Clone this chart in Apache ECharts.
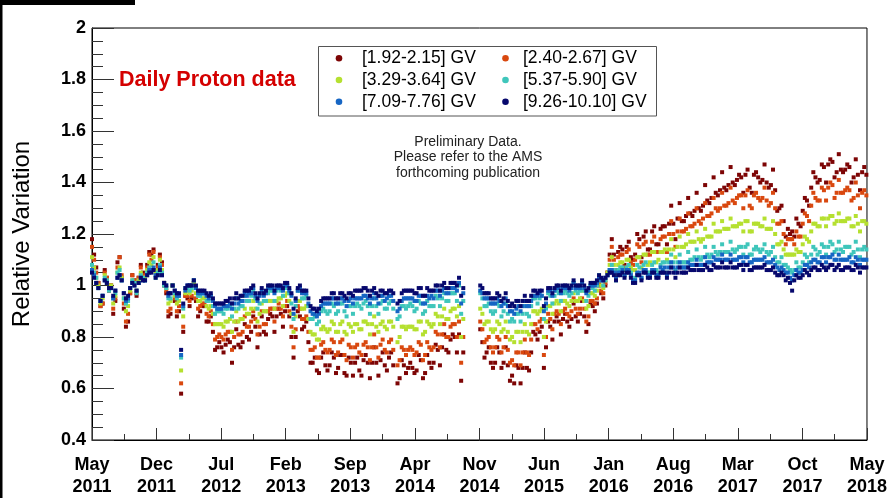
<!DOCTYPE html>
<html>
<head>
<meta charset="utf-8">
<script src="https://cdn.jsdelivr.net/npm/echarts@6/dist/echarts.min.js"></script>
<style>
  html, body { margin: 0; padding: 0; background: #fff; }
  #chart { width: 890px; height: 498px; }
</style>
</head>
<body>
<div id="chart"></div>
<script>
// AMS daily proton flux, relative variation per rigidity bin.
// One value per week starting 2011-05-20 (null = no data that week).
const startDate = '2011-05-20';
const stepDays = 7;
const spanDays = 2557;

const tickLabels = ['May 2011', 'Dec 2011', 'Jul 2012', 'Feb 2013', 'Sep 2013', 'Apr 2014', 'Nov 2014',
                    'Jun 2015', 'Jan 2016', 'Aug 2016', 'Mar 2017', 'Oct 2017', 'May 2018'];

const binNames = ['[1.92-2.15] GV', '[2.40-2.67] GV', '[3.29-3.64] GV',
                  '[5.37-5.90] GV', '[7.09-7.76] GV', '[9.26-10.10] GV'];

const p192 = [
1.18,1.12,1.07,1.01,0.92,0.93,1.06,1.03,0.98,1.00,
0.89,0.94,1.09,1.11,1.03,0.91,0.84,0.86,0.97,1.04,
1.02,0.96,1.03,1.08,1.05,1.03,1.08,1.13,1.12,1.14,
1.06,1.08,1.12,1.09,1.00,0.97,0.88,0.89,1.00,0.94,
0.88,0.90,0.58,0.82,0.96,0.95,0.92,0.95,1.01,0.94,
0.88,0.90,0.92,0.92,0.86,0.86,0.88,0.82,0.75,0.76,
0.78,0.76,0.74,0.77,0.79,0.78,0.70,0.76,0.83,0.77,
0.76,0.78,0.85,0.80,0.79,0.82,0.88,0.84,0.76,0.81,
0.88,0.82,0.81,0.87,0.89,0.88,0.82,0.88,0.91,0.89,
0.84,0.90,0.92,0.88,0.80,0.72,0.80,0.90,0.88,0.83,
0.84,0.86,0.78,0.70,0.70,0.72,0.67,0.66,0.72,0.74,
0.69,0.67,0.69,0.74,0.72,0.66,0.68,0.73,0.73,0.66,
0.65,0.72,0.70,0.65,0.70,0.72,0.67,0.65,0.71,0.73,
0.70,0.64,0.70,0.76,0.70,0.65,0.71,0.74,0.69,0.67,
0.72,0.74,0.69,null,0.62,0.64,0.71,0.69,0.66,0.68,
0.70,0.68,0.66,0.67,0.73,0.71,0.64,0.66,0.73,0.70,
0.68,0.70,0.77,0.75,0.69,0.76,0.81,0.75,0.74,0.79,
0.81,0.80,0.74,0.81,0.63,0.74,null,null,null,null,
null,null,null,0.83,0.78,0.72,0.74,0.76,0.70,0.68,
0.70,0.76,0.74,0.68,0.70,0.76,0.69,0.63,0.65,0.62,
0.69,0.68,0.62,0.68,0.74,0.68,0.67,0.74,0.82,0.81,
0.79,0.82,0.84,0.68,0.76,0.86,0.84,0.79,0.86,0.88,
0.86,0.81,0.87,0.89,0.86,0.84,0.87,0.93,0.88,0.86,
0.89,0.94,0.88,0.82,0.85,0.93,0.92,0.90,0.93,1.00,
0.97,0.95,1.00,1.05,1.12,1.18,1.12,1.06,1.13,1.15,
1.14,1.08,1.15,1.17,1.11,1.10,1.12,1.20,1.18,1.11,
1.19,1.21,1.14,1.14,1.21,1.23,1.16,1.16,1.22,1.23,
1.23,1.16,1.24,1.31,1.24,1.18,1.26,1.32,1.25,1.25,
1.27,1.34,1.28,1.27,1.29,1.36,1.30,1.29,1.31,1.39,
1.33,1.32,1.34,1.42,1.36,1.35,1.37,1.44,1.38,1.37,
1.39,1.46,1.40,1.39,1.41,1.43,1.42,1.36,1.43,1.45,
1.38,1.36,1.43,1.44,1.42,1.40,1.41,1.47,1.40,1.38,
1.39,1.45,1.37,1.29,1.30,1.31,1.25,1.19,1.22,1.20,
1.21,1.19,1.26,1.24,1.23,1.29,1.34,1.33,1.31,1.38,
1.44,1.42,1.40,1.41,1.47,1.46,1.40,1.47,1.49,1.48,
1.42,1.44,1.51,1.45,1.44,1.45,1.47,1.46,1.40,1.42,
1.49,1.43,1.37,1.44,1.46,1.43
];

const p240 = [
1.15,1.10,1.05,1.01,0.92,0.93,1.05,1.03,0.99,1.00,
0.91,0.95,1.07,1.11,1.04,0.93,0.86,0.89,0.97,1.04,
1.02,0.97,1.03,1.07,1.04,1.03,1.07,1.12,1.10,1.13,
1.06,1.07,1.11,1.08,1.01,0.98,0.90,0.91,1.00,0.95,
0.90,0.92,0.62,0.84,0.96,0.96,0.94,0.96,1.01,0.95,
0.91,0.92,0.93,0.93,0.89,0.88,0.90,0.85,0.79,0.80,
0.81,0.80,0.79,0.81,0.82,0.82,0.75,0.80,0.86,0.81,
0.81,0.82,0.88,0.84,0.84,0.86,0.90,0.87,0.81,0.84,
0.90,0.85,0.85,0.90,0.91,0.91,0.86,0.91,0.93,0.91,
0.88,0.92,0.94,0.90,0.84,0.76,0.83,0.92,0.91,0.87,
0.87,0.88,0.82,0.75,0.75,0.76,0.72,0.72,0.77,0.78,
0.75,0.74,0.75,0.79,0.78,0.73,0.74,0.78,0.79,0.73,
0.71,0.77,0.76,0.72,0.76,0.77,0.74,0.73,0.77,0.78,
0.76,0.71,0.76,0.81,0.76,0.72,0.77,0.79,0.75,0.74,
0.78,0.79,0.75,null,0.69,0.71,0.76,0.75,0.73,0.75,
0.76,0.75,0.73,0.74,0.78,0.77,0.71,0.73,0.78,0.76,
0.75,0.76,0.82,0.81,0.76,0.81,0.85,0.80,0.80,0.84,
0.85,0.85,0.80,0.86,0.70,0.80,null,null,null,null,
null,null,null,0.86,0.83,0.78,0.79,0.80,0.76,0.74,
0.76,0.80,0.79,0.74,0.76,0.80,0.75,0.70,0.71,0.69,
0.74,0.74,0.69,0.74,0.79,0.74,0.73,0.79,0.85,0.85,
0.83,0.86,0.87,0.73,0.80,0.89,0.87,0.83,0.89,0.90,
0.89,0.85,0.90,0.91,0.89,0.88,0.90,0.95,0.91,0.89,
0.91,0.95,0.91,0.86,0.88,0.94,0.94,0.93,0.95,1.01,
0.98,0.97,1.01,1.05,1.10,1.15,1.10,1.05,1.11,1.12,
1.12,1.07,1.13,1.14,1.09,1.08,1.10,1.16,1.15,1.09,
1.16,1.17,1.12,1.12,1.17,1.19,1.13,1.13,1.18,1.19,
1.19,1.13,1.20,1.25,1.20,1.15,1.21,1.26,1.21,1.21,
1.22,1.28,1.23,1.23,1.24,1.30,1.25,1.24,1.26,1.32,
1.27,1.27,1.28,1.34,1.30,1.29,1.30,1.36,1.31,1.31,
1.32,1.38,1.33,1.32,1.34,1.35,1.35,1.30,1.35,1.37,
1.31,1.30,1.35,1.36,1.34,1.33,1.34,1.38,1.33,1.31,
1.32,1.36,1.30,1.24,1.24,1.25,1.20,1.16,1.18,1.18,
1.18,1.16,1.21,1.19,1.19,1.24,1.28,1.27,1.25,1.31,
1.36,1.34,1.33,1.33,1.38,1.37,1.33,1.38,1.40,1.39,
1.34,1.36,1.41,1.36,1.36,1.37,1.38,1.37,1.33,1.34,
1.40,1.35,1.30,1.36,1.37,1.35
];

const p329 = [
1.11,1.07,1.03,1.00,0.93,0.95,1.04,1.02,0.99,1.00,
0.93,0.96,1.05,1.07,1.03,0.95,0.90,0.92,0.98,1.02,
1.01,0.98,1.02,1.05,1.03,1.03,1.06,1.09,1.08,1.11,
1.05,1.06,1.10,1.06,1.01,0.99,0.93,0.94,1.00,0.96,
0.93,0.94,0.67,0.88,0.97,0.98,0.97,0.98,1.01,0.97,
0.94,0.94,0.95,0.95,0.92,0.91,0.92,0.89,0.85,0.85,
0.85,0.85,0.84,0.86,0.86,0.87,0.82,0.86,0.90,0.86,
0.87,0.87,0.91,0.89,0.89,0.91,0.94,0.91,0.86,0.89,
0.93,0.90,0.90,0.94,0.94,0.94,0.91,0.94,0.95,0.95,
0.92,0.96,0.97,0.94,0.89,0.82,0.88,0.94,0.94,0.91,
0.91,0.92,0.87,0.82,0.81,0.81,0.79,0.79,0.83,0.84,
0.83,0.82,0.83,0.86,0.85,0.82,0.82,0.85,0.86,0.82,
0.81,0.85,0.84,0.82,0.85,0.85,0.83,0.83,0.86,0.86,
0.85,0.81,0.85,0.88,0.84,0.82,0.85,0.86,0.84,0.83,
0.86,0.86,0.84,null,0.78,0.80,0.84,0.84,0.83,0.84,
0.84,0.84,0.83,0.83,0.86,0.86,0.81,0.82,0.86,0.85,
0.84,0.85,0.89,0.88,0.85,0.88,0.91,0.87,0.87,0.90,
0.91,0.91,0.88,0.92,0.80,0.87,null,null,null,null,
null,null,null,0.91,0.89,0.85,0.86,0.86,0.83,0.82,
0.83,0.86,0.85,0.82,0.83,0.86,0.82,0.79,0.80,0.78,
0.82,0.82,0.78,0.82,0.85,0.82,0.81,0.85,0.90,0.90,
0.89,0.90,0.91,0.80,0.86,0.92,0.92,0.89,0.93,0.94,
0.93,0.90,0.94,0.94,0.93,0.92,0.94,0.97,0.94,0.94,
0.95,0.98,0.94,0.91,0.92,0.97,0.97,0.96,0.98,1.02,
1.00,0.99,1.02,1.05,1.08,1.11,1.08,1.04,1.08,1.09,
1.09,1.06,1.10,1.10,1.07,1.06,1.06,1.11,1.11,1.07,
1.12,1.12,1.08,1.09,1.13,1.13,1.09,1.10,1.13,1.13,
1.14,1.10,1.14,1.18,1.14,1.11,1.15,1.19,1.15,1.15,
1.16,1.20,1.17,1.17,1.17,1.21,1.18,1.17,1.18,1.22,
1.19,1.19,1.19,1.24,1.21,1.21,1.21,1.25,1.22,1.22,
1.22,1.26,1.23,1.23,1.23,1.24,1.24,1.21,1.25,1.25,
1.21,1.21,1.24,1.24,1.24,1.23,1.23,1.26,1.22,1.22,
1.22,1.25,1.20,1.16,1.16,1.17,1.14,1.12,1.12,1.12,
1.12,1.12,1.14,1.13,1.13,1.16,1.19,1.18,1.17,1.21,
1.24,1.24,1.23,1.23,1.26,1.26,1.23,1.26,1.27,1.27,
1.24,1.25,1.28,1.25,1.25,1.25,1.26,1.26,1.23,1.23,
1.27,1.24,1.21,1.25,1.25,1.24
];

const p537 = [
1.08,1.05,1.03,0.99,0.94,0.96,1.03,1.02,0.98,0.99,
0.95,0.97,1.05,1.06,1.02,0.95,0.93,0.94,0.99,1.02,
1.01,0.97,1.01,1.04,1.03,1.02,1.05,1.07,1.06,1.09,
1.03,1.05,1.08,1.05,1.00,0.99,0.95,0.95,1.00,0.97,
0.95,0.96,0.72,0.91,0.99,0.99,0.98,0.99,1.02,0.99,
0.96,0.96,0.97,0.97,0.94,0.94,0.96,0.92,0.89,0.90,
0.90,0.90,0.89,0.91,0.91,0.92,0.88,0.91,0.95,0.91,
0.92,0.92,0.96,0.94,0.94,0.96,0.98,0.95,0.91,0.93,
0.97,0.94,0.94,0.97,0.98,0.98,0.94,0.98,0.99,0.98,
0.96,0.99,1.00,0.97,0.93,0.87,0.92,0.98,0.98,0.95,
0.95,0.96,0.92,0.87,0.87,0.88,0.85,0.86,0.90,0.91,
0.90,0.89,0.90,0.93,0.92,0.89,0.90,0.93,0.93,0.90,
0.88,0.92,0.92,0.89,0.92,0.93,0.92,0.91,0.93,0.94,
0.92,0.89,0.92,0.95,0.92,0.89,0.93,0.94,0.91,0.91,
0.93,0.94,0.91,null,0.87,0.88,0.92,0.92,0.91,0.92,
0.93,0.92,0.90,0.91,0.94,0.93,0.89,0.90,0.94,0.92,
0.92,0.92,0.96,0.95,0.92,0.95,0.97,0.94,0.94,0.97,
0.97,0.97,0.94,1.00,0.89,0.94,null,null,null,null,
null,null,null,0.97,0.95,0.92,0.92,0.93,0.90,0.89,
0.90,0.93,0.92,0.88,0.90,0.93,0.89,0.86,0.87,0.86,
0.89,0.89,0.86,0.89,0.92,0.89,0.88,0.92,0.95,0.95,
0.93,0.95,0.96,0.87,0.91,0.97,0.96,0.93,0.96,0.98,
0.97,0.94,0.97,0.98,0.97,0.96,0.97,1.01,0.98,0.97,
0.98,1.01,0.98,0.94,0.96,1.00,0.99,0.98,1.00,1.04,
1.02,1.00,1.02,1.04,1.06,1.08,1.06,1.02,1.06,1.07,
1.07,1.04,1.07,1.08,1.05,1.02,1.03,1.08,1.07,1.03,
1.08,1.09,1.05,1.05,1.08,1.09,1.06,1.05,1.08,1.09,
1.09,1.05,1.09,1.12,1.09,1.06,1.09,1.12,1.09,1.09,
1.09,1.13,1.10,1.10,1.11,1.14,1.11,1.10,1.11,1.15,
1.12,1.11,1.12,1.15,1.13,1.12,1.13,1.16,1.13,1.13,
1.13,1.17,1.14,1.13,1.14,1.15,1.15,1.12,1.15,1.16,
1.12,1.12,1.14,1.15,1.14,1.13,1.14,1.16,1.13,1.12,
1.13,1.15,1.11,1.09,1.09,1.11,1.08,1.08,1.07,1.06,
1.05,1.06,1.09,1.07,1.07,1.09,1.12,1.11,1.09,1.12,
1.15,1.14,1.12,1.13,1.16,1.15,1.12,1.15,1.17,1.16,
1.13,1.14,1.17,1.14,1.13,1.15,1.15,1.15,1.12,1.13,
1.17,1.14,1.11,1.14,1.15,1.14
];

const p709 = [
1.06,1.04,1.01,0.99,0.94,0.96,1.02,1.01,0.99,0.99,
0.95,0.98,1.03,1.04,1.02,0.97,0.94,0.95,0.99,1.01,
1.00,0.98,1.01,1.03,1.02,1.02,1.04,1.06,1.06,1.07,
1.04,1.04,1.07,1.04,1.01,1.00,0.96,0.97,1.00,0.98,
0.96,0.96,0.73,0.92,0.98,1.00,1.00,1.00,1.02,0.99,
0.97,0.97,0.97,0.97,0.96,0.95,0.96,0.94,0.92,0.91,
0.91,0.91,0.92,0.92,0.92,0.93,0.91,0.93,0.95,0.93,
0.94,0.94,0.97,0.96,0.97,0.97,0.99,0.96,0.94,0.96,
0.98,0.96,0.97,0.99,0.99,0.99,0.97,0.99,0.99,0.99,
0.98,1.00,1.00,0.98,0.96,0.89,0.94,0.98,0.99,0.97,
0.97,0.97,0.93,0.90,0.89,0.89,0.88,0.89,0.92,0.93,
0.93,0.93,0.93,0.95,0.95,0.93,0.93,0.95,0.95,0.94,
0.92,0.94,0.95,0.93,0.95,0.95,0.95,0.95,0.96,0.96,
0.95,0.93,0.95,0.97,0.95,0.93,0.96,0.96,0.94,0.95,
0.96,0.96,0.94,null,0.90,0.91,0.94,0.95,0.95,0.95,
0.95,0.95,0.94,0.94,0.96,0.96,0.93,0.93,0.96,0.95,
0.96,0.95,0.98,0.98,0.96,0.98,0.99,0.97,0.97,0.99,
0.99,0.99,0.98,1.01,0.93,0.97,null,null,null,null,
null,null,null,0.98,0.97,0.95,0.95,0.95,0.93,0.93,
0.93,0.95,0.94,0.92,0.93,0.95,0.92,0.90,0.90,0.89,
0.91,0.92,0.90,0.92,0.94,0.92,0.92,0.94,0.96,0.96,
0.96,0.97,0.96,0.90,0.93,0.98,0.98,0.96,0.98,0.99,
0.99,0.97,0.99,0.99,0.99,0.98,0.99,1.01,0.99,0.99,
0.99,1.01,0.99,0.97,0.98,1.00,1.00,1.00,1.01,1.03,
1.02,1.02,1.03,1.04,1.06,1.06,1.05,1.03,1.05,1.05,
1.06,1.04,1.06,1.06,1.04,1.02,1.02,1.05,1.05,1.03,
1.06,1.06,1.04,1.04,1.06,1.06,1.04,1.04,1.07,1.06,
1.07,1.04,1.07,1.09,1.07,1.05,1.07,1.09,1.07,1.07,
1.07,1.09,1.08,1.08,1.08,1.10,1.08,1.08,1.08,1.11,
1.09,1.09,1.09,1.11,1.10,1.10,1.10,1.12,1.10,1.10,
1.10,1.12,1.10,1.10,1.10,1.11,1.11,1.09,1.11,1.11,
1.09,1.09,1.10,1.10,1.10,1.10,1.10,1.11,1.09,1.09,
1.09,1.10,1.08,1.07,1.06,1.07,1.06,1.05,1.05,1.03,
1.02,1.04,1.06,1.05,1.05,1.06,1.08,1.08,1.07,1.09,
1.10,1.10,1.09,1.09,1.11,1.11,1.09,1.11,1.11,1.12,
1.10,1.10,1.12,1.10,1.10,1.10,1.10,1.11,1.09,1.09,
1.11,1.10,1.08,1.10,1.10,1.10
];

const p926 = [
1.05,1.03,1.01,0.99,0.94,0.96,1.02,1.01,0.99,0.99,
0.96,0.98,1.03,1.04,1.02,0.97,0.95,0.96,0.99,1.01,
1.00,0.98,1.01,1.03,1.02,1.02,1.04,1.05,1.05,1.06,
1.03,1.04,1.06,1.04,1.01,1.00,0.97,0.97,1.00,0.98,
0.97,0.97,0.75,0.93,0.99,1.00,1.00,1.00,1.02,1.00,
0.98,0.98,0.98,0.98,0.97,0.96,0.97,0.95,0.93,0.93,
0.93,0.93,0.93,0.94,0.94,0.95,0.93,0.95,0.97,0.95,
0.96,0.96,0.98,0.98,0.98,0.99,1.00,0.97,0.95,0.97,
0.99,0.97,0.98,1.00,1.00,1.00,0.98,1.00,1.00,1.00,
0.99,1.01,1.01,0.99,0.97,0.91,0.95,0.99,1.00,0.98,
0.98,0.98,0.95,0.92,0.91,0.91,0.90,0.91,0.94,0.95,
0.95,0.95,0.95,0.97,0.97,0.95,0.95,0.97,0.97,0.96,
0.95,0.97,0.97,0.96,0.98,0.98,0.98,0.98,0.99,0.99,
0.98,0.96,0.98,0.99,0.97,0.96,0.98,0.98,0.97,0.97,
0.98,0.98,0.97,null,0.93,0.94,0.97,0.98,0.98,0.98,
0.98,0.98,0.97,0.97,0.99,0.99,0.96,0.96,0.99,0.98,
0.98,0.98,1.00,1.00,0.98,1.00,1.01,0.99,0.99,1.01,
1.01,1.01,1.00,1.03,0.96,0.99,null,null,null,null,
null,null,null,1.00,0.99,0.97,0.97,0.97,0.95,0.95,
0.95,0.97,0.96,0.94,0.95,0.97,0.94,0.92,0.93,0.92,
0.94,0.94,0.92,0.94,0.96,0.94,0.94,0.96,0.98,0.98,
0.97,0.98,0.98,0.92,0.95,0.99,0.99,0.97,0.99,1.00,
1.00,0.98,1.00,1.00,1.00,0.99,1.00,1.02,1.00,1.00,
1.00,1.02,1.00,0.98,0.99,1.01,1.01,1.01,1.02,1.04,
1.03,1.02,1.03,1.04,1.05,1.05,1.04,1.02,1.04,1.04,
1.05,1.03,1.05,1.05,1.03,1.01,1.01,1.04,1.04,1.02,
1.05,1.05,1.03,1.03,1.05,1.05,1.03,1.03,1.05,1.05,
1.05,1.03,1.05,1.07,1.05,1.03,1.05,1.07,1.05,1.05,
1.05,1.07,1.06,1.06,1.06,1.08,1.06,1.06,1.06,1.08,
1.07,1.06,1.06,1.08,1.07,1.07,1.07,1.09,1.07,1.07,
1.07,1.09,1.07,1.07,1.07,1.08,1.08,1.06,1.08,1.08,
1.06,1.06,1.07,1.07,1.07,1.07,1.07,1.08,1.06,1.06,
1.06,1.07,1.05,1.04,1.04,1.05,1.04,1.02,1.03,1.01,
0.98,1.02,1.04,1.03,1.03,1.04,1.06,1.05,1.04,1.06,
1.07,1.07,1.06,1.06,1.08,1.07,1.06,1.07,1.08,1.08,
1.06,1.07,1.08,1.06,1.06,1.07,1.07,1.07,1.06,1.06,
1.08,1.07,1.05,1.07,1.07,1.07
];

// Drawing order: lowest rigidity first, highest rigidity on top.
const binValues = [p192, p240, p329, p537, p709, p926];
const binColors = ['#7d0505', '#d9480f', '#b5e030', '#3fc6bb', '#1666c4', '#07086d'];

const FONT = '"Liberation Sans", Helvetica, Arial, sans-serif';
const labelStep = spanDays / 12;

function toPoints(values) {
  const pts = [];
  values.forEach((v, i) => { if (v !== null) pts.push([i * stepDays, v]); });
  return pts;
}

const series = binValues.map((vals, k) => ({
  name: binNames[k],
  type: 'scatter',
  symbol: 'rect',
  symbolSize: 4,
  itemStyle: { color: binColors[k], opacity: 1 },
  emphasis: { disabled: true },
  data: toPoints(vals)
}));

// Two-column key: marker dot + label, inside a framed box.
const keyCols = [{ dot: 339, text: 362 }, { dot: 505.5, text: 523 }];
const keyRows = [58.3, 80, 101.7];
const keyItems = [];
binNames.forEach((name, k) => {
  const col = keyCols[k % 2];
  const y = keyRows[Math.floor(k / 2)];
  keyItems.push({ type: 'circle', silent: true, shape: { cx: col.dot, cy: y, r: 3.3 },
                  style: { fill: binColors[k] } });
  keyItems.push({ type: 'text', silent: true, x: col.text, y: y,
                  style: { text: name, font: '17.5px ' + FONT, fill: '#000', textVerticalAlign: 'middle' } });
});

const chart = echarts.init(document.getElementById('chart'), null, { renderer: 'canvas' });

chart.setOption({
  animation: false,
  backgroundColor: '#fff',
  grid: {
    left: 92, right: 21, top: 28, bottom: 58,
    show: true, borderColor: '#000', borderWidth: 1, backgroundColor: 'transparent'
  },
  xAxis: {
    type: 'value',
    min: 0, max: spanDays, interval: labelStep,
    axisLine: { show: true, lineStyle: { color: '#000', width: 1 } },
    axisTick: { show: true, inside: true, length: 12, lineStyle: { color: '#333' } },
    minorTick: { show: true, splitNumber: 2, length: 6, lineStyle: { color: '#333' } },
    splitLine: { show: false },
    axisLabel: {
      margin: 14,
      fontFamily: FONT, fontSize: 18, fontWeight: 'bold', color: '#000', lineHeight: 22,
      formatter: (v) => {
        const t = tickLabels[Math.round(v / labelStep)];
        return t ? t.replace(' ', '\n') : '';
      }
    }
  },
  yAxis: {
    type: 'value',
    min: 0.4, max: 2, interval: 0.2,
    name: 'Relative Variation',
    nameLocation: 'middle',
    nameGap: 58,
    nameRotate: 90,
    nameTextStyle: { fontFamily: FONT, fontSize: 24, color: '#000' },
    axisLine: { show: true, lineStyle: { color: '#000', width: 1 } },
    axisTick: { show: true, inside: true, length: 22, lineStyle: { color: '#333' } },
    minorTick: { show: true, splitNumber: 4, length: 11, lineStyle: { color: '#333' } },
    splitLine: { show: false },
    axisLabel: {
      margin: 6,
      fontFamily: FONT, fontSize: 18, fontWeight: 'bold', color: '#000',
      formatter: (v) => String(Number(v.toFixed(1)))
    }
  },
  graphic: [
    { type: 'rect', left: 0, top: 0, shape: { width: 135, height: 5 }, style: { fill: '#000' }, silent: true },
    { type: 'rect', left: 0, top: 0, shape: { width: 2.5, height: 498 }, style: { fill: '#000' }, silent: true },
    { type: 'rect', shape: { x: 318.5, y: 46.5, width: 338, height: 69.5 },
      style: { fill: 'none', stroke: '#555', lineWidth: 1 }, silent: true },
    { type: 'text', x: 119, y: 80, silent: true,
      style: { text: 'Daily Proton data', font: 'bold 21.5px ' + FONT, fill: '#d40000', textVerticalAlign: 'middle' } },
    { type: 'text', x: 468, y: 134, silent: true,
      style: { text: 'Preliminary Data.\nPlease refer to the AMS\nforthcoming publication',
               font: '14px ' + FONT, fill: '#222', textAlign: 'center', lineHeight: 15.5 } }
  ].concat(keyItems),
  series: series
});
</script>
</body>
</html>
